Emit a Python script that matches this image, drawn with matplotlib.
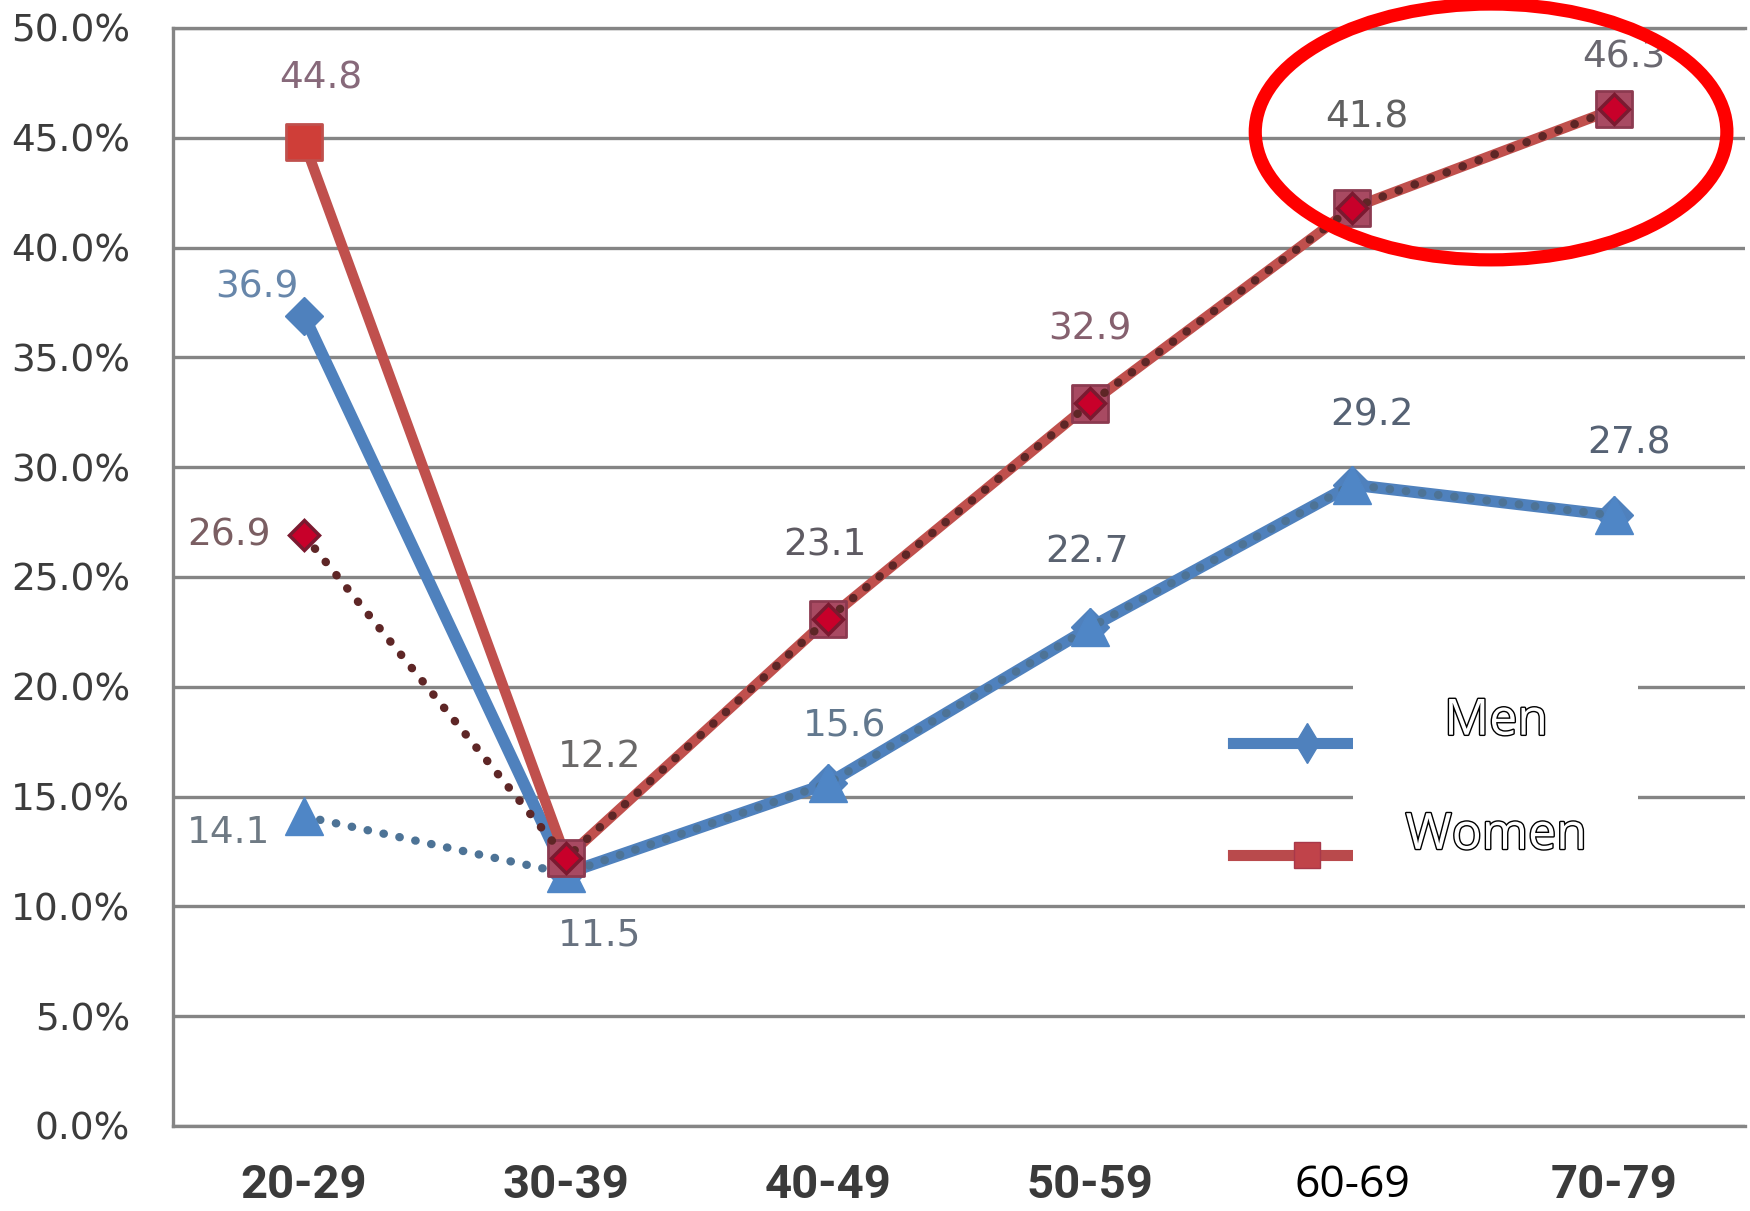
import matplotlib
matplotlib.use("Agg")
import matplotlib.pyplot as plt
from matplotlib.patches import Ellipse, Rectangle
from matplotlib.lines import Line2D
import matplotlib.patheffects as pe

# ---------------- data ----------------
age_groups = ["20-29", "30-39", "40-49", "50-59", "60-69", "70-79"]
men_main = [36.9, 11.5, 15.6, 22.7, 29.2, 27.8]
men_alt = [14.1, 11.5, 15.6, 22.7, 29.2, 27.8]
women_main = [44.8, 12.2, 23.1, 32.9, 41.8, 46.3]
women_alt = [26.9, 12.2, 23.1, 32.9, 41.8, 46.3]
y_ticks = [0, 5, 10, 15, 20, 25, 30, 35, 40, 45, 50]
y_tick_labels = ["0.0%", "5.0%", "10.0%", "15.0%", "20.0%", "25.0%",
                 "30.0%", "35.0%", "40.0%", "45.0%", "50.0%"]
legend_labels = ["Men", "Women"]

# ---------------- styles ----------------
BLUE = "#4f81bd"
RED = "#c0504d"
GRID = "#858585"

fig = plt.figure(figsize=(17.5, 12.11), dpi=100)
ax = fig.add_axes([0.0989, 0.0702, 0.8983, 0.9067])
x = list(range(len(age_groups)))

ax.set_xlim(-0.5, len(age_groups) - 0.5)
ax.set_ylim(0, 50)

ax.spines["right"].set_visible(False)
for s in ["left", "bottom", "top"]:
    ax.spines[s].set_color(GRID)
    ax.spines[s].set_linewidth(2.4)
ax.yaxis.grid(True, color=GRID, linewidth=2.4)
ax.set_axisbelow(True)

ax.set_yticks(y_ticks, y_tick_labels)
ax.set_xticks(x, age_groups)
ax.tick_params(axis="y", length=0, pad=31, labelsize=27, labelcolor="#3c3c3c")
ax.tick_params(axis="x", length=0, pad=27)
for i, lab in enumerate(ax.get_xticklabels()):
    if i == 4:
        lab.set_fontfamily(["Open Sans", "DejaVu Sans"])
        lab.set_fontsize(32)
        lab.set_color("black")
        lab.set_fontweight("normal")
    else:
        lab.set_fontfamily(["Roboto", "DejaVu Sans"])
        lab.set_fontsize(34)
        lab.set_fontweight("bold")
        lab.set_color("#3a3a3a")

# ---------------- series ----------------
ax.plot(x, men_main, color=BLUE, lw=8.5, marker="D", ms=19,
        mfc=BLUE, mec=BLUE, solid_joinstyle="round", zorder=3)
ax.plot(x, men_alt, color="#4d7396", lw=6, linestyle=(0, (0.05, 1.9)),
        dash_capstyle="round", marker="^", ms=28, mfc="#4f86c6", mec="#4f86c6",
        zorder=4)

ax.plot(x, women_main, color=RED, lw=7.5, solid_joinstyle="round", zorder=5)
square_colors = ["#cf3e38", "#a84a62", "#a84a62", "#a84a62", "#a84a62", "#a84a62"]
square_edges = ["#c0504d", "#8c3a50", "#8c3a50", "#8c3a50", "#8c3a50", "#8c3a50"]
ax.scatter(x, women_main, marker="s", s=26 ** 2, c=square_colors,
           edgecolors=square_edges, linewidths=2, zorder=6)
ax.plot(x, women_alt, color="#5e2626", lw=6, linestyle=(0, (0.05, 2.0)),
        dash_capstyle="round", marker="D", ms=15, mfc="#c8002a", mec="#7a1a30",
        mew=2.5, zorder=7)

# ---------------- data labels ----------------
def label(series, idx, dx, dy, color, ha="center"):
    ax.annotate(f"{series[idx]:.1f}", (x[idx], series[idx]), xytext=(dx, dy),
                textcoords="offset points", ha=ha, va="center", fontsize=27,
                color=color, zorder=10)

label(women_main, 0, 12, 46, "#87697a")
label(men_main, 0, -34, 20, "#6786aa")
label(women_alt, 0, -24, 0, "#7a5e62", ha="right")
label(men_alt, 0, -24, -12, "#6f7a84", ha="right")
label(women_alt, 1, 24, 73, "#6a6868")
label(men_alt, 1, 24, -45, "#687280")
label(women_alt, 2, -2, 53, "#5e5a62")
label(men_alt, 2, 12, 41, "#62788e")
label(women_alt, 3, 0, 53, "#85606e")
label(men_alt, 3, -2, 54, "#5a6270")
label(women_alt, 4, 11, 65, "#606060")
label(men_alt, 4, 14, 50, "#566274")
label(women_alt, 5, 7, 37, "#6a6870")
label(men_alt, 5, 11, 52, "#566274")

# ---------------- legend (samples partly covered by a white box) ----------------
ax.add_line(Line2D([0.674, 0.721, 0.752], [0.349, 0.349, 0.349], transform=ax.transAxes,
                   color=BLUE, lw=8, marker="d", ms=20, mfc=BLUE, mec=BLUE,
                   markevery=[1], zorder=12))
ax.add_line(Line2D([0.674, 0.721, 0.752], [0.247, 0.247, 0.247], transform=ax.transAxes,
                   color="#b94a4c", lw=8, marker="s", ms=19, mfc="#c0434a",
                   mec="#a8384a", markevery=[1], zorder=12))
ax.add_patch(Rectangle((0.7506, 0.2195), 0.1814, 0.1885, transform=ax.transAxes,
                       facecolor="white", edgecolor="none", zorder=15))
for lbl, yy in zip(legend_labels, [0.368, 0.264]):
    t = ax.text(0.8416, yy, lbl, transform=ax.transAxes, ha="center", va="center",
                fontsize=36, family=["Open Sans", "DejaVu Sans"], color="white",
                zorder=16)
    t.set_path_effects([pe.withStroke(linewidth=2.0, foreground="black")])

# ---------------- highlight ellipse ----------------
ax.add_patch(Ellipse((0.8384, 0.9053), 0.300, 0.233, transform=ax.transAxes,
                     fill=False, edgecolor="#ff0000", lw=9.5, clip_on=False,
                     zorder=20))

fig.savefig("out.png", dpi=100)
